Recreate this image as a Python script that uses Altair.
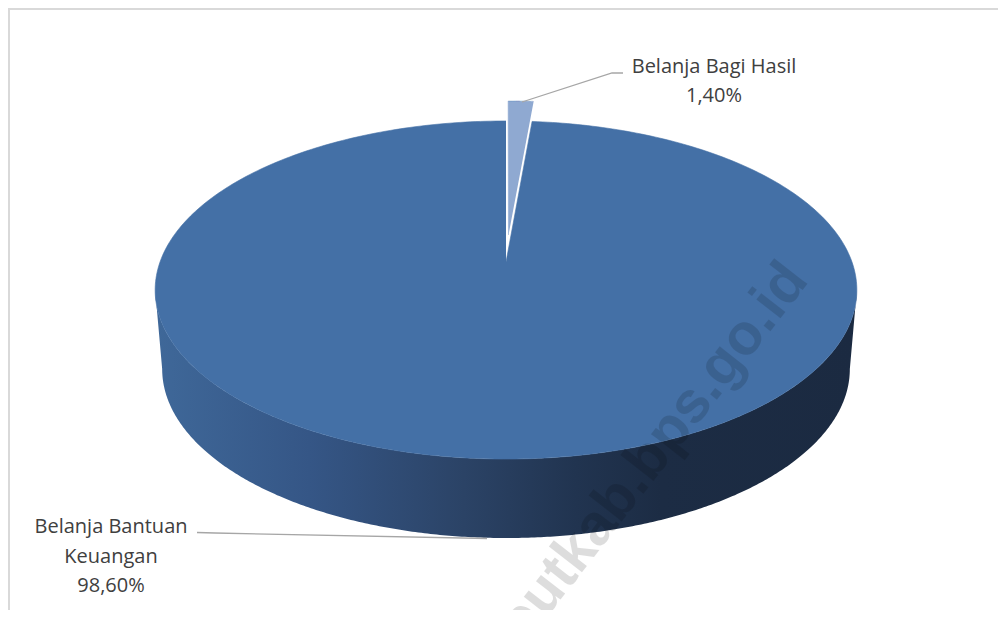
import altair as alt
import pandas as pd

# ---------------- data ----------------
categories = ["Belanja Bagi Hasil", "Belanja Bantuan Keuangan"]
shares = [1.40, 98.60]
label_lines = [["Belanja Bagi Hasil", "1,40%"], ["Belanja Bantuan", "Keuangan", "98,60%"]]
watermark = "taputkab.bps.go.id"

# ---------------- style / layout ----------------
slice_colors = ["#8FA9D1", "#4470A6"]
explode = [0.169, 0.0]           # radial offset (fraction of radius)
CX, CY = 506.0, 262.0            # pie centre (page pixels)
A, B, K = 346.0, 164.4, 0.1657   # horizontal radius, vertical radius, perspective
D = 79.0                          # thickness
BOT = 0.98                        # bottom rim horizontal scale
N = 360
W, H = 990, 602
label_anchor = [(714.0, 72.7), (111.0, 533.3)]
line_h = 29.3
text_color = "#404040"
leader_color = "#A6A6A6"

df = pd.DataFrame({"category": categories, "share": shares, "explode": explode})

X_SCALE = alt.Scale(domain=[8, 8 + W], nice=False, zero=False)
Y_SCALE = alt.Scale(domain=[8, 8 + H], nice=False, zero=False, reverse=True)


def px(u, v, s=1.0):
    return f"{CX} + {A * s}*({u})/(1 + {K}*({v}))"


def py(u, v, off=0.0):
    return f"{CY + off} - {B}*({v})/(1 + {K}*({v}))"


def enc(chart, xf="px", yf="py"):
    return chart.encode(
        x=alt.X(f"{xf}:Q", scale=X_SCALE, axis=None),
        y=alt.Y(f"{yf}:Q", scale=Y_SCALE, axis=None),
    )


base = alt.Chart(df).transform_window(
    cum="sum(share)", frame=[None, 0]
).transform_calculate(
    t0="(datum.cum - datum.share) / 100 * 2 * PI",
    t1="datum.cum / 100 * 2 * PI",
)

# ----- top faces of the slices -----
tops = base.transform_calculate(
    idx=f"sequence(-1, {N + 1})"
).transform_flatten(["idx"]).transform_calculate(
    tm="(datum.t0 + datum.t1) / 2",
    t=f"datum.t0 + (datum.t1 - datum.t0) * max(datum.idx, 0) / {N}",
    r="datum.idx < 0 ? 0 : 1",
).transform_calculate(
    u="datum.r * sin(datum.t) + datum.explode * sin(datum.tm)",
    v="datum.r * cos(datum.t) + datum.explode * cos(datum.tm)",
).transform_calculate(
    px=px("datum.u", "datum.v"),
    py=py("datum.u", "datum.v"),
)

top_layers = []
for cat, col in zip(categories, slice_colors):
    top_layers.append(
        enc(
            tops.transform_filter(alt.datum.category == cat).mark_line(
                fill=col, stroke=col, strokeWidth=0.6
            )
        ).encode(order=alt.Order("idx:Q"))
    )

# ----- visible side wall (front half) -----
F0 = f"acos(-{K})"
F1 = f"(2*PI - acos(-{K}))"
side = base.transform_calculate(
    s0=f"max(datum.t0, {F0})",
    s1=f"min(datum.t1, {F1})",
).transform_filter("datum.s1 > datum.s0").transform_calculate(
    j=f"sequence(0, {2 * N + 2})"
).transform_flatten(["j"]).transform_calculate(
    bot=f"datum.j > {N} ? 1 : 0",
    t=f"datum.j <= {N} ? datum.s0 + (datum.s1 - datum.s0) * datum.j / {N} : "
      f"datum.s1 - (datum.s1 - datum.s0) * (datum.j - {N + 1}) / {N}",
).transform_calculate(
    u="sin(datum.t)", v="cos(datum.t)"
).transform_calculate(
    px=f"datum.bot ? ({px('datum.u', 'datum.v', BOT)}) : ({px('datum.u', 'datum.v')})",
    py=f"datum.bot ? ({py('datum.u', 'datum.v', D)}) : ({py('datum.u', 'datum.v')})",
)
side_grad = alt.Gradient(
    gradient="linear",
    stops=[
        alt.GradientStop(color="#3F6899", offset=0.0),
        alt.GradientStop(color="#355686", offset=0.22),
        alt.GradientStop(color="#2B4366", offset=0.44),
        alt.GradientStop(color="#213450", offset=0.6),
        alt.GradientStop(color="#1C2C44", offset=0.72),
        alt.GradientStop(color="#1B2A41", offset=1.0),
    ],
    x1=0, x2=1, y1=0, y2=0,
)
side_layer = enc(
    side.mark_line(fill=side_grad, strokeWidth=0)
).encode(order=alt.Order("j:Q"))

# ----- labels -----
rows = []
for lines, (ax, ay) in zip(label_lines, label_anchor):
    for i, t in enumerate(lines):
        rows.append({"text": t, "lx": ax, "ly": ay + i * line_h})
lab_df = pd.DataFrame(rows)
labels = enc(
    alt.Chart(lab_df).mark_text(
        font="Open Sans", fontSize=20, color=text_color,
        align="center", baseline="alphabetic"
    ), "lx", "ly"
).encode(text="text:N")

# ----- leader lines -----
lead_df = pd.DataFrame({
    "id": [0, 0, 0, 1, 1, 1],
    "o": [0, 1, 2, 0, 1, 2],
    "lx": [522, 612, 623, 197, 215, 487],
    "ly": [102, 73, 73, 532.5, 533, 538.5],
})
leaders = enc(
    alt.Chart(lead_df).mark_line(color=leader_color, strokeWidth=1.3), "lx", "ly"
).encode(detail="id:N", order="o:Q")

# ----- frame (left & top border) -----
frame_df = pd.DataFrame({"k": [0]})
frame_left = alt.Chart(frame_df).mark_rule(color="#D9D9D9", strokeWidth=2).encode(
    x=alt.value(1), y=alt.value(0), y2=alt.value(H)
)
frame_top = alt.Chart(frame_df).mark_rule(color="#D9D9D9", strokeWidth=2).encode(
    x=alt.value(0), x2=alt.value(W), y=alt.value(1)
)

# ----- watermark -----
wm_df = pd.DataFrame({"text": [watermark], "wx": [651.0], "wy": [484.0]})
wm = enc(
    alt.Chart(wm_df).mark_text(
        font="Liberation Sans", fontWeight="bold", fontSize=58, color="black",
        opacity=0.13, angle=308, align="center", baseline="alphabetic"
    ), "wx", "wy"
).encode(text="text:N")

chart = alt.layer(
    side_layer, *top_layers[::-1], leaders, labels, wm, frame_left, frame_top
).properties(
    width=W, height=H, padding=0, autosize=alt.AutoSizeParams(type="none")
).configure_view(stroke=None)

chart.save("out.html", embed_options={"renderer": "svg", "actions": False})
